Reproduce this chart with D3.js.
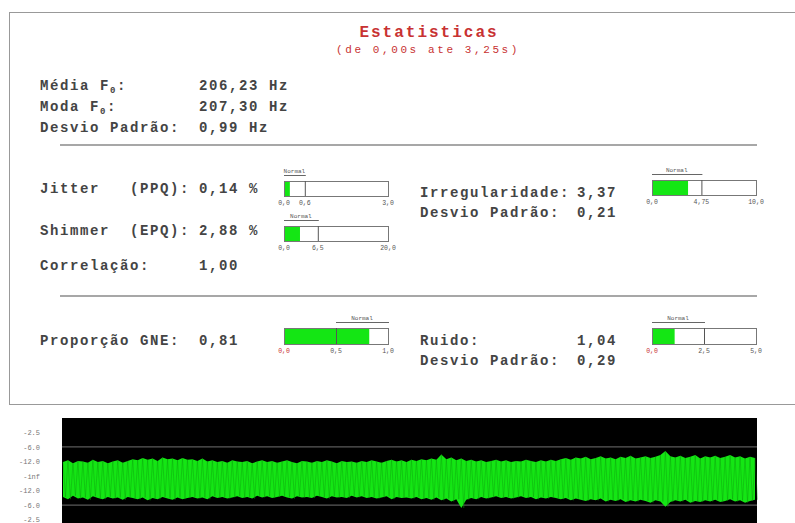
<!DOCTYPE html>
<html>
<head>
<meta charset="utf-8">
<script src="https://cdn.jsdelivr.net/npm/d3@7"></script>
<style>
body{margin:0;background:#fff}
text{font-family:"Liberation Mono","Courier New",monospace}
</style>
</head>
<body>
<div id="chart"></div>
<script>
var titleText = "Estatisticas";
var subtitleText = "(de 0,00s ate 3,25s)";

var f0Labels = ["Média F", "Moda F", "Desvio Padrão:"];
var f0Subs = ["0", "0", ""];
var f0Values = ["206,23 Hz", "207,30 Hz", "0,99 Hz"];

var leftLabels = ["Jitter   (PPQ):", "Shimmer  (EPQ):", "Correlação:", "Proporção GNE:"];
var leftValues = ["0,14 %", "2,88 %", "1,00", "0,81"];

var rightLabels = ["Irregularidade:", "Desvio Padrão:", "Ruido:", "Desvio Padrão:"];
var rightValues = ["3,37", "0,21", "1,04", "0,29"];

// medidores: valor, máximo da escala, limite normal, lado normal
var meterValues = [0.14, 2.88, 3.37, 0.81, 1.04];
var meterMax = [3.0, 20.0, 10.0, 1.0, 5.0];
var meterNormal = [0.6, 6.5, 4.75, 0.5, 2.5];
var meterNormalSide = ["low", "low", "low", "high", "low"];

// forma de onda: picos positivos e negativos (amplitude relativa)
var wavePeak = [
  0.24,0.27,0.22,0.26,0.25,0.23,0.28,0.24,0.26,0.22,
  0.25,0.27,0.23,0.26,0.29,0.27,0.31,0.28,0.30,0.26,
  0.32,0.29,0.30,0.27,0.31,0.28,0.29,0.26,0.30,0.25,
  0.27,0.24,0.26,0.23,0.27,0.25,0.24,0.26,0.22,0.25,
  0.27,0.24,0.26,0.23,0.25,0.27,0.24,0.22,0.26,0.25,
  0.23,0.26,0.24,0.27,0.25,0.22,0.26,0.24,0.25,0.23,
  0.26,0.24,0.27,0.25,0.23,0.26,0.28,0.25,0.27,0.24,
  0.28,0.26,0.29,0.27,0.30,0.28,0.37,0.29,0.32,0.27,
  0.30,0.26,0.28,0.25,0.27,0.24,0.26,0.28,0.25,0.27,
  0.24,0.26,0.25,0.28,0.26,0.24,0.27,0.25,0.28,0.26,
  0.29,0.31,0.28,0.32,0.30,0.33,0.29,0.31,0.34,0.30,
  0.32,0.29,0.33,0.31,0.35,0.30,0.32,0.34,0.31,0.33,
  0.36,0.43,0.34,0.32,0.35,0.31,0.33,0.36,0.30,0.34,
  0.32,0.35,0.31,0.33,0.36,0.32,0.34,0.30,0.33,0.31
];
var waveTrough = [
  -0.36,-0.40,-0.34,-0.39,-0.37,-0.41,-0.35,-0.38,-0.40,-0.36,
  -0.39,-0.37,-0.41,-0.36,-0.38,-0.40,-0.37,-0.42,-0.38,-0.40,
  -0.36,-0.39,-0.41,-0.37,-0.40,-0.38,-0.36,-0.39,-0.37,-0.40,
  -0.35,-0.38,-0.36,-0.39,-0.37,-0.35,-0.38,-0.36,-0.39,-0.34,
  -0.37,-0.35,-0.38,-0.36,-0.34,-0.37,-0.39,-0.35,-0.37,-0.36,
  -0.38,-0.34,-0.36,-0.39,-0.35,-0.37,-0.36,-0.38,-0.34,-0.37,
  -0.35,-0.38,-0.36,-0.39,-0.37,-0.35,-0.40,-0.36,-0.38,-0.37,
  -0.39,-0.36,-0.40,-0.38,-0.41,-0.37,-0.42,-0.39,-0.44,-0.40,
  -0.55,-0.41,-0.38,-0.40,-0.36,-0.39,-0.37,-0.35,-0.38,-0.36,
  -0.39,-0.37,-0.35,-0.38,-0.36,-0.40,-0.37,-0.39,-0.36,-0.38,
  -0.40,-0.38,-0.42,-0.39,-0.41,-0.43,-0.40,-0.42,-0.39,-0.44,
  -0.41,-0.43,-0.40,-0.45,-0.42,-0.44,-0.41,-0.43,-0.46,-0.42,
  -0.44,-0.53,-0.45,-0.42,-0.44,-0.41,-0.46,-0.43,-0.45,-0.42,
  -0.44,-0.41,-0.45,-0.43,-0.40,-0.44,-0.42,-0.46,-0.43,-0.41
];
var waveTickDb = [-2.5, -6, -12, -Infinity, -12, -6, -2.5];
var waveTickSign = [1, 1, 1, 0, -1, -1, -1];
var waveGridDb = [-6, -6];
var waveGridSign = [1, -1];

var W = 795, H = 523;
var textColor = "#444";
var red = "#c83232";
var green = "#14e614";

var svg = d3.select("#chart").append("svg")
    .attr("width", W)
    .attr("height", H);

// painel
svg.append("rect")
    .attr("x", 9.5).attr("y", 12.5)
    .attr("width", 800).attr("height", 392)
    .attr("fill", "#fff")
    .attr("stroke", "#999");

svg.append("text")
    .attr("x", 429).attr("y", 37)
    .attr("text-anchor", "middle")
    .attr("fill", red)
    .attr("font-size", 16).attr("font-weight", "bold")
    .attr("letter-spacing", 2)
    .text(titleText);

svg.append("text")
    .attr("x", 428).attr("y", 53)
    .attr("text-anchor", "middle")
    .attr("fill", red)
    .attr("font-size", 11).attr("letter-spacing", 2.6)
    .text(subtitleText);

function label(x, y, str, anchor) {
    return svg.append("text")
        .attr("x", x).attr("y", y)
        .attr("text-anchor", anchor || "start")
        .attr("fill", textColor)
        .attr("font-size", 14).attr("font-weight", "bold")
        .attr("letter-spacing", 1.6)
        .style("white-space", "pre")
        .text(str);
}

// bloco F0
var f0Y = [90, 111, 132];
f0Labels.forEach(function(s, i) {
    var t = label(40, f0Y[i], s);
    if (f0Subs[i]) {
        t.append("tspan").attr("dy", 3).attr("font-size", 9).text(f0Subs[i]);
        t.append("tspan").attr("dy", -3).text(":");
    }
    label(199, f0Y[i], f0Values[i]);
});

// separadores
[145, 296].forEach(function(y) {
    svg.append("line")
        .attr("x1", 60).attr("x2", 757)
        .attr("y1", y).attr("y2", y)
        .attr("stroke", "#8a8a8a").attr("stroke-width", 1.6);
});

var leftY = [193, 235, 270, 345];
leftLabels.forEach(function(s, i) {
    label(40, leftY[i], s);
    label(199, leftY[i], leftValues[i]);
});

var rightY = [197, 217, 345, 365];
rightLabels.forEach(function(s, i) {
    label(420, rightY[i], s);
    label(617, rightY[i], rightValues[i], "end");
});

// medidores
var meterPos = [[284, 181, 15], [284, 226, 15], [652, 180, 15], [284, 328, 16], [652, 328, 16]];
var meterFirstTickColor = ["#555", "#555", "#555", red, red];

function fmt(v) {
    var s = (Math.round(v * 100) % 10) ? v.toFixed(2) : v.toFixed(1);
    return s.replace(".", ",");
}

meterValues.forEach(function(v, i) {
    var x0 = meterPos[i][0], y0 = meterPos[i][1], h = meterPos[i][2];
    var x = d3.scaleLinear().domain([0, meterMax[i]]).range([x0, x0 + 104]);
    var g = svg.append("g");

    g.append("rect")
        .attr("x", x0 + 0.5).attr("y", y0 + 0.5)
        .attr("width", x(meterMax[i]) - x0).attr("height", h)
        .attr("fill", "#fff");
    g.append("rect")
        .attr("x", x(0) + 1).attr("y", y0 + 1)
        .attr("width", x(v) - x(0)).attr("height", h - 1)
        .attr("fill", green);
    g.append("rect")
        .attr("x", x0 + 0.5).attr("y", y0 + 0.5)
        .attr("width", x(meterMax[i]) - x0).attr("height", h)
        .attr("fill", "none").attr("stroke", "#777");
    g.append("line")
        .attr("x1", x(meterNormal[i]) + 0.5).attr("x2", x(meterNormal[i]) + 0.5)
        .attr("y1", y0).attr("y2", y0 + h)
        .attr("stroke", "#555");

    var nr = meterNormalSide[i] === "low" ? [0, meterNormal[i]] : [meterNormal[i], meterMax[i]];
    g.append("line")
        .attr("x1", x(nr[0])).attr("x2", x(nr[1]) + 1)
        .attr("y1", y0 - 5.5).attr("y2", y0 - 5.5)
        .attr("stroke", "#666");
    g.append("text")
        .attr("x", (x(nr[0]) + x(nr[1])) / 2).attr("y", y0 - 8)
        .attr("text-anchor", "middle")
        .attr("font-size", 6).attr("fill", "#555")
        .text("Normal");

    [0, meterNormal[i], meterMax[i]].forEach(function(t, k) {
        g.append("text")
            .attr("x", x(t)).attr("y", y0 + h + 9)
            .attr("text-anchor", "middle")
            .attr("font-size", 6.5)
            .attr("fill", k === 0 ? meterFirstTickColor[i] : "#555")
            .text(fmt(t));
    });
});

// forma de onda
var wx = d3.scaleLinear().domain([0, wavePeak.length - 1]).range([63, 755]);
var wy = d3.scaleLinear().domain([-1, 1]).range([534, 418]);

svg.append("rect")
    .attr("x", 62).attr("y", 418)
    .attr("width", 695).attr("height", 116)
    .attr("fill", "#000");

waveGridDb.forEach(function(db, i) {
    var a = waveGridSign[i] * Math.pow(10, db / 20);
    svg.append("line")
        .attr("x1", 62).attr("x2", 757)
        .attr("y1", wy(a)).attr("y2", wy(a))
        .attr("stroke", "#5a5a5a").attr("stroke-width", 1.2);
});

// envoltória cheia + traço em zigue-zague
var env = wavePeak.map(function(p, i) { return [i, p, waveTrough[i]]; });
svg.append("path")
    .attr("d", d3.area()
        .x(function(d) { return wx(d[0]); })
        .y0(function(d) { return wy(d[2]); })
        .y1(function(d) { return wy(d[1]); })(env))
    .attr("fill", green);

var pts = [];
wavePeak.forEach(function(p, i) {
    pts.push([wx(i), wy(p)]);
    pts.push([wx(i + 0.5), wy(waveTrough[i])]);
});
svg.append("path")
    .attr("d", d3.line()(pts))
    .attr("fill", "none")
    .attr("stroke", "#0a8f0a")
    .attr("stroke-opacity", 0.45)
    .attr("stroke-width", 0.8);

var tickAmp = waveTickDb.map(function(db, i) {
    return waveTickSign[i] === 0 ? 0 : waveTickSign[i] * Math.pow(10, db / 20);
});
var axis = d3.axisLeft(wy)
    .tickValues(tickAmp)
    .tickSize(0)
    .tickPadding(2)
    .tickFormat(function(d, i) {
        var db = waveTickDb[i];
        return db === -Infinity ? "-inf" : db.toFixed(1);
    });
var ag = svg.append("g")
    .attr("transform", "translate(42,0)")
    .call(axis);
ag.select(".domain").remove();
ag.selectAll("text")
    .attr("font-size", 7)
    .attr("fill", "#777");
</script>
</body>
</html>
